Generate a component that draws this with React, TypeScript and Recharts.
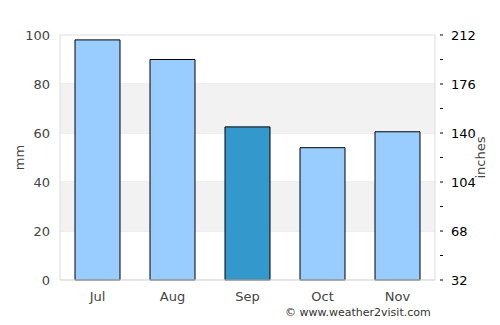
import React from "react";
import {
  BarChart,
  Bar,
  XAxis,
  YAxis,
  CartesianGrid,
  ReferenceArea,
  Cell,
} from "recharts";

const months = ["Jul", "Aug", "Sep", "Oct", "Nov"];
const rainfallMm = [98, 90, 62.5, 54, 60.5];
const highlightMonth = "Sep";
const mmTicks = [0, 20, 40, 60, 80, 100];
const inchTicks = [32, 50, 68, 86, 104, 122, 140, 158, 176, 194, 212];

const data = months.map((month, i) => ({ month, mm: rainfallMm[i] }));

const font = "DejaVu Sans, sans-serif";

const RightTick = (props: any) => {
  const { x, y, payload, index } = props;
  const showLabel = index % 2 === 0;
  return (
    <g>
      <line x1={x - 3} y1={y} x2={x} y2={y} stroke="#000" strokeWidth={1} />
      {showLabel && (
        <text
          x={x + 8}
          y={y}
          dy={5}
          fill="#000"
          fontSize={13}
          fontFamily={font}
          textAnchor="start"
        >
          {payload.value}
        </text>
      )}
    </g>
  );
};

export default function App() {
  return (
    <div
      style={{
        position: "absolute",
        left: 0,
        top: 0,
        width: 500,
        height: 325,
        background: "#fff",
        fontFamily: font,
      }}
    >
      <BarChart
        width={500}
        height={325}
        data={data}
        margin={{ top: 35, right: 0, bottom: 20, left: 0 }}
        barCategoryGap="20%"
      >
        <ReferenceArea yAxisId="mm" y1={60} y2={80} fill="#f2f2f2" fillOpacity={1} stroke="none" />
        <ReferenceArea yAxisId="mm" y1={20} y2={40} fill="#f2f2f2" fillOpacity={1} stroke="none" />
        <CartesianGrid yAxisId="mm" vertical={false} stroke="#dddddd" />
        <XAxis
          dataKey="month"
          height={25}
          tickLine={false}
          axisLine={{ stroke: "#dddddd" }}
          tick={{ fill: "#444", fontSize: 13, fontFamily: font }}
          tickMargin={6}
        />
        <YAxis
          yAxisId="mm"
          orientation="left"
          width={60}
          domain={[0, 100]}
          ticks={mmTicks}
          tickLine={false}
          axisLine={{ stroke: "#dddddd" }}
          tick={{ fill: "#444", fontSize: 13, fontFamily: font }}
          tickMargin={4}
          label={{
            value: "mm",
            angle: -90,
            position: "insideLeft",
            offset: 19,
            style: { fill: "#444", fontSize: 13, fontFamily: font, textAnchor: "middle" },
          }}
        />
        <YAxis
          yAxisId="in"
          orientation="right"
          width={65}
          domain={[32, 212]}
          ticks={inchTicks}
          interval={0}
          allowDataOverflow
          tickLine={false}
          axisLine={{ stroke: "#dddddd" }}
          tick={<RightTick />}
          label={{
            value: "inches",
            angle: -90,
            position: "insideRight",
            offset: 20,
            style: { fill: "#444", fontSize: 13, fontFamily: font, textAnchor: "middle" },
          }}
        />
        <Bar
          yAxisId="mm"
          dataKey="mm"
          stroke="#000"
          strokeWidth={1}
          isAnimationActive={false}
        >
          {data.map((d) => (
            <Cell key={d.month} fill={d.month === highlightMonth ? "#3399cc" : "#99ccff"} />
          ))}
        </Bar>
      </BarChart>
      <div
        style={{
          position: "absolute",
          left: 285,
          top: 306,
          fontSize: 11,
          color: "#333",
          fontFamily: font,
          whiteSpace: "nowrap",
        }}
      >
        © www.weather2visit.com
      </div>
    </div>
  );
}
